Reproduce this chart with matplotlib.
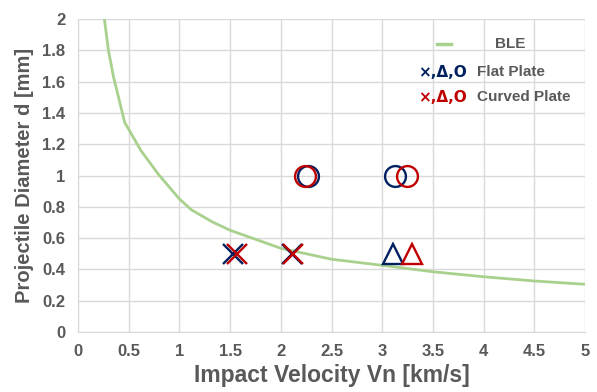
import matplotlib
matplotlib.use('Agg')
import matplotlib.pyplot as plt

# BLE-Kurve
ble_v = [0.26, 0.30, 0.35, 0.43, 0.46, 0.62, 0.79, 1.0, 1.12, 1.32, 1.5, 2.0, 2.5, 3.0, 3.5, 4.0, 4.5, 5.0]
ble_d = [2.0, 1.80, 1.63, 1.42, 1.34, 1.16, 1.01, 0.85, 0.78, 0.705, 0.65, 0.535, 0.465, 0.426, 0.385, 0.353, 0.326, 0.305]

# Versuchspunkte
flat_x_v = [1.53, 2.11]
flat_x_d = [0.5, 0.5]
flat_tri_v = [3.11]
flat_tri_d = [0.5]
flat_o_v = [2.27, 3.13]
flat_o_d = [1.0, 1.0]

curved_x_v = [1.57, 2.12]
curved_x_d = [0.5, 0.5]
curved_tri_v = [3.29]
curved_tri_d = [0.5]
curved_o_v = [2.24, 3.24]
curved_o_d = [1.0, 1.0]

blau = '#002060'
rot = '#C00000'
gruen = '#A9D18E'
grau = '#595959'
gitter = '#D9D9D9'

plt.rcParams['font.family'] = ['Liberation Sans', 'DejaVu Sans']
plt.rcParams['font.weight'] = 'bold'

fig = plt.figure(figsize=(5.97, 3.92), dpi=100)
ax = fig.add_axes([78/597, 1-332/392, (585-78)/597, (332-19)/392])

ax.plot(ble_v, ble_d, color=gruen, lw=2, zorder=2)

ms = 15
mew = 1.7
ax.plot(flat_x_v, flat_x_d, 'x', color=blau, ms=ms, mew=mew, ls='none', zorder=3)
ax.plot(curved_x_v, curved_x_d, 'x', color=rot, ms=ms, mew=mew, ls='none', zorder=4)
ax.plot(flat_tri_v, flat_tri_d, '^', mfc='none', mec=blau, ms=ms, mew=mew, ls='none', zorder=3)
ax.plot(curved_tri_v, curved_tri_d, '^', mfc='none', mec=rot, ms=ms, mew=mew, ls='none', zorder=4)
ax.plot(flat_o_v, flat_o_d, 'o', mfc='none', mec=blau, ms=ms, mew=mew, ls='none', zorder=3)
ax.plot(curved_o_v, curved_o_d, 'o', mfc='none', mec=rot, ms=ms, mew=mew, ls='none', zorder=4)

ax.set_xlim(0, 5)
ax.set_ylim(0, 2)
ax.set_xticks([0, 0.5, 1, 1.5, 2, 2.5, 3, 3.5, 4, 4.5, 5])
ax.set_xticklabels(['0', '0.5', '1', '1.5', '2', '2.5', '3', '3.5', '4', '4.5', '5'])
ax.set_yticks([0, 0.2, 0.4, 0.6, 0.8, 1, 1.2, 1.4, 1.6, 1.8, 2])
ax.set_yticklabels(['0', '0.2', '0.4', '0.6', '0.8', '1', '1.2', '1.4', '1.6', '1.8', '2'])
ax.grid(True, color=gitter, lw=1)
ax.set_axisbelow(True)
for s in ['top', 'right']:
    ax.spines[s].set_visible(False)
for s in ['left', 'bottom']:
    ax.spines[s].set_color(gitter)
ax.tick_params(length=0, labelsize=12, colors=grau, pad=9)
for lab in ax.get_xticklabels() + ax.get_yticklabels():
    lab.set_fontweight('bold')
ax.set_xlabel('Impact Velocity Vn [km/s]', fontsize=16.5, fontweight='bold', color=grau, labelpad=3)
ax.set_ylabel('Projectile Diameter d [mm]', fontsize=14.5, fontweight='bold', color=grau, labelpad=6)

# Legende (selbst gebaut)
ax.plot([3.54, 3.68], [1.84, 1.84], color=gruen, lw=2.5)
ax.text(4.11, 1.84, 'BLE', fontsize=11, color=grau, va='center')
ax.text(3.35, 1.66, '×,Δ,O', fontsize=11, color=blau, va='center', family=['DejaVu Sans'])
ax.text(3.93, 1.66, 'Flat Plate', fontsize=11, color=grau, va='center')
ax.text(3.35, 1.50, '×,Δ,O', fontsize=11, color=rot, va='center', family=['DejaVu Sans'])
ax.text(3.93, 1.50, 'Curved Plate', fontsize=11, color=grau, va='center')

fig.savefig('out.png', dpi=100)
